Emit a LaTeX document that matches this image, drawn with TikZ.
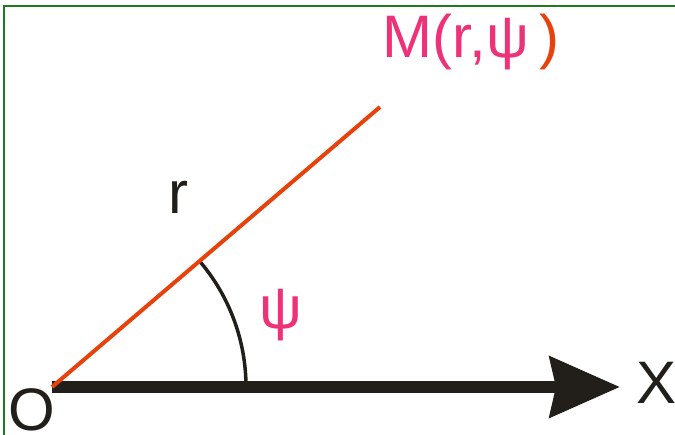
\documentclass[tikz,border=0pt]{standalone}
\usepackage{fontspec}
\setmainfont{Liberation Sans}
\usetikzlibrary{arrows.meta,calc}
\definecolor{rose}{HTML}{EE3277}
\definecolor{flame}{HTML}{E8420C}
\definecolor{soot}{HTML}{221E1A}
\definecolor{frame}{HTML}{1E7A1E}

\begin{document}
\begin{tikzpicture}[x=1pt,y=1pt,
    lbl/.style={font=\fontsize{60}{60}\selectfont,inner sep=0pt}]
        \useasboundingbox (0,0) rectangle (675,435);
        \draw[frame,line width=2.5pt] (4,0) -- (4,429) -- (675,429);
        \coordinate (O) at (52,48);
        \coordinate (M) at (380,328);
        \coordinate (Xtip) at (620,48);
        \draw[soot,line width=12pt,-{Stealth[length=70pt,width=60pt,inset=6pt]}] (O) -- (Xtip);
        \draw[soot,line width=3.5pt] ($(O)+(194,0)$) arc[start angle=0,end angle=40.4,radius=194];
        \draw[flame,line width=4pt] (O) -- (M);
        \node[lbl,text=soot] (o) at (32,25) {O};
        \node[lbl,text=soot] (x) at (657,52) {X};
        \node[lbl,text=soot] (r) at (178,238) {r};
        \node[lbl,text=rose] (psi) at (281,120) {ψ};
        \node[lbl,text=rose] (m) at (471,393) {M(r,ψ\,\textcolor{flame}{)}};
      \end{tikzpicture}
\end{document}
